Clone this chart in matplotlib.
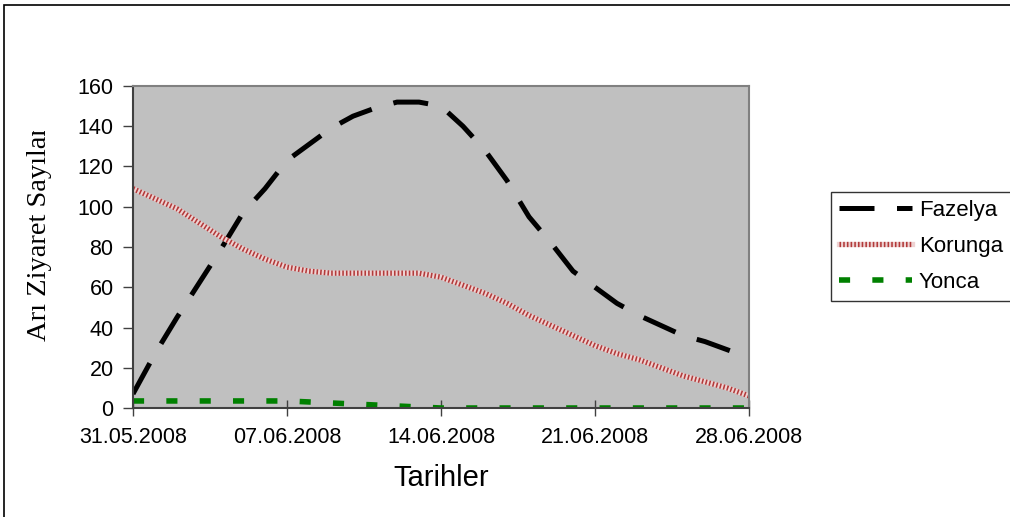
import matplotlib
matplotlib.use("Agg")
import matplotlib.pyplot as plt
import matplotlib.dates as mdates
from matplotlib.patches import Rectangle
from matplotlib.transforms import Bbox
import pandas as pd

# daily readings, 31.05.2008 - 28.06.2008
dates = pd.date_range("2008-05-31", "2008-06-28", freq="D")
fazelya = [7, 27, 45, 62, 79, 97, 109, 123, 131, 139, 145, 149, 152, 152, 150,
           140, 128, 113, 95, 82, 68, 60, 52, 46, 41, 36, 33, 29, 25]
korunga = [109, 104, 99, 92, 85, 79, 74, 70, 68, 67, 67, 67, 67, 67, 65,
           61, 57, 52, 46, 41, 36, 31, 27, 24, 20, 16, 13, 10, 6]
yonca = [3.5, 3.5, 3.5, 3.5, 3.5, 3.5, 3.5, 3.5, 3, 2.5, 2, 1.5, 1, 0.5, 0,
         0, 0, 0, 0, 0, 0, 0, 0, 0, 0, 0, 0, 0, 0]
tick_dates = ["2008-05-31", "2008-06-07", "2008-06-14", "2008-06-21", "2008-06-28"]

plt.rcParams["font.family"] = ["Liberation Sans", "DejaVu Sans"]

fig = plt.figure(figsize=(10.1, 5.17), dpi=100)
ax = fig.add_axes([133 / 1010, 1 - 408 / 517, 616 / 1010, 322 / 517])
ax.set_facecolor("#c0c0c0")

ax.plot(dates, fazelya, color="black", lw=3.6, dashes=(7, 4.5), label="Fazelya")
# korunga: checkered red/white line, drawn as a pale base with fine red stripes
k_base, = ax.plot(dates, korunga, color="#eed2d2", lw=3.8)
k_top, = ax.plot(dates, korunga, color="#b23a3a", lw=3.8, dashes=(0.3, 0.4))
ax.plot(dates, yonca, color="#008000", lw=4, dashes=(2, 4), label="Yonca")

ax.set_ylim(0, 160)
ax.set_yticks(range(0, 161, 20))
ax.set_xlim(pd.Timestamp(tick_dates[0]), pd.Timestamp(tick_dates[-1]))
ax.set_xticks(pd.to_datetime(tick_dates))
ax.xaxis.set_major_formatter(mdates.DateFormatter("%d.%m.%Y"))

ax.tick_params(axis="y", direction="out", length=7, width=1, color="#404040",
               labelsize=15.5, pad=7)
ax.tick_params(axis="x", direction="inout", length=11, width=1, color="#404040",
               labelsize=15.5, pad=8)

for side in ["left", "bottom"]:
    ax.spines[side].set_color("#404040")
    ax.spines[side].set_linewidth(1.5)
for side in ["top", "right"]:
    ax.spines[side].set_color("#808080")
    ax.spines[side].set_linewidth(1.5)

ax.set_xlabel("Tarihler", fontsize=21, labelpad=12)

ylab = fig.text(40 / 1010, 1 - 341 / 517, "Arı Ziyaret Sayıları", rotation=90,
                ha="center", va="bottom", fontsize=20.5, family="Liberation Serif")
ylab.set_clip_box(Bbox.from_extents(0, 0, 120, 517 - 131))
ylab.set_clip_on(True)

h, l = ax.get_legend_handles_labels()
handles = [h[0], (k_base, k_top), h[1]]
labels = ["Fazelya", "Korunga", "Yonca"]
leg = fig.legend(handles, labels, loc="upper left",
                 bbox_to_anchor=(831 / 1010, 1 - 192 / 517),
                 fontsize=16, frameon=True, fancybox=False, handlelength=3.3,
                 handletextpad=0.3, borderpad=0.35, labelspacing=0.68,
                 borderaxespad=0)
leg.get_frame().set_edgecolor("black")
leg.get_frame().set_linewidth(1)

# outer chart frame (cut at right and bottom)
fig.patches.append(Rectangle((4 / 1010, -0.1), 1.1, 1.1 - 5 / 517,
                             transform=fig.transFigure, fill=False,
                             edgecolor="black", lw=1.2))

fig.savefig("out.png", dpi=100)
